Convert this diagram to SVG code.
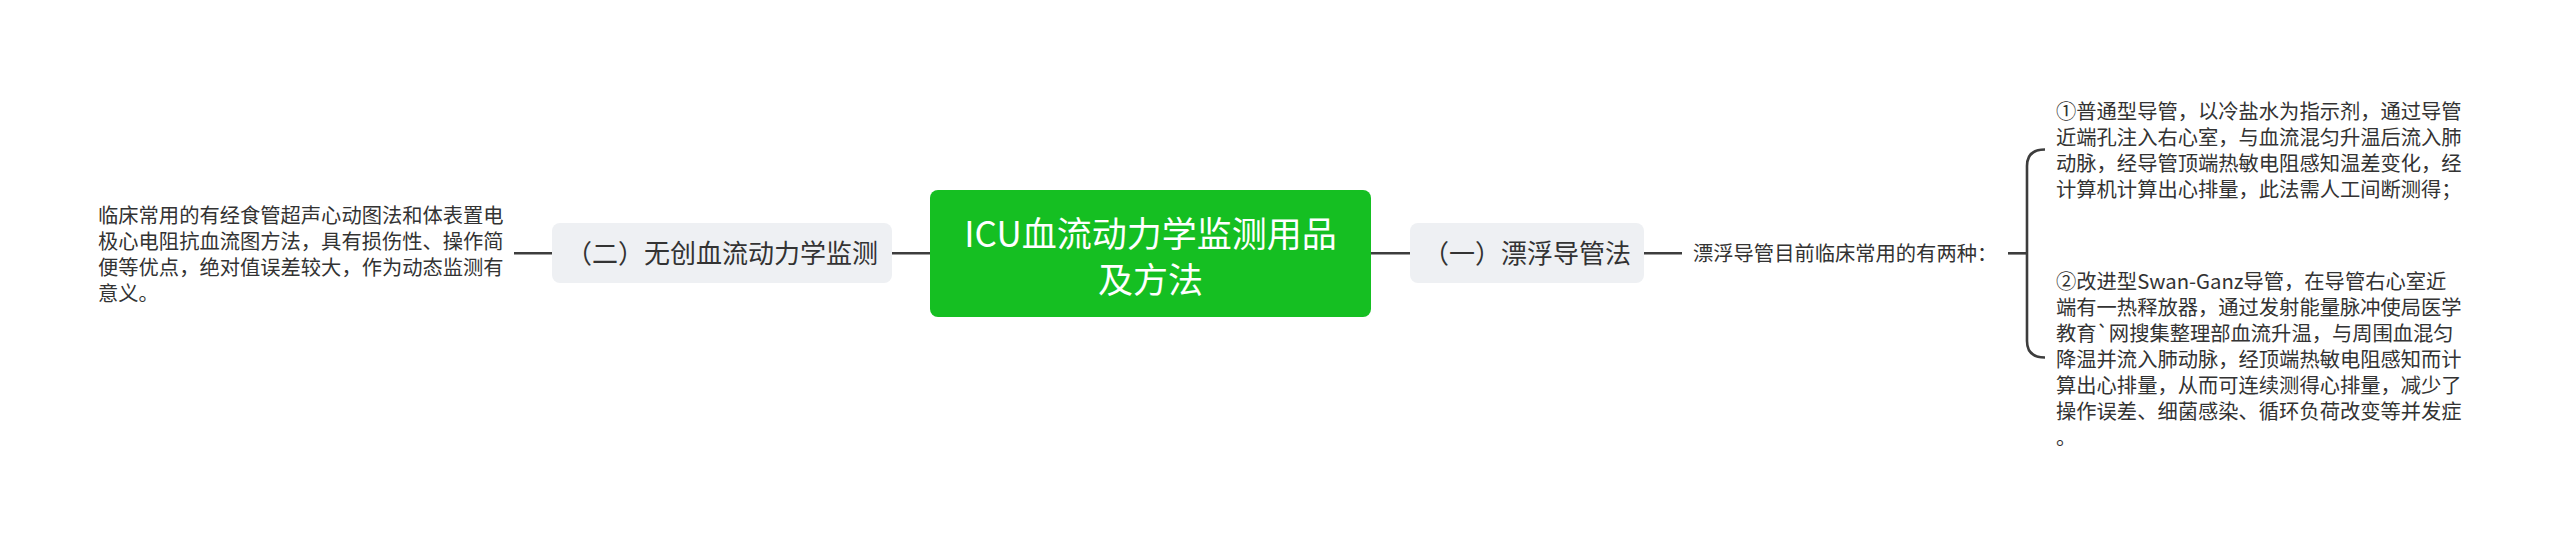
<svg xmlns="http://www.w3.org/2000/svg" width="2560" height="546" viewBox="0 0 2560 546">
<style>
text{font-family:"Noto Sans CJK SC","Noto Sans",sans-serif;fill:#333}
.sm{font-size:20.3px}
.mid{font-size:26px;text-anchor:middle}
.root{font-size:35px;text-anchor:middle;fill:#fff}
.box{fill:#eef0f3}
.conn{fill:none;stroke:#3d3d3d;stroke-width:2.6;stroke-linecap:butt}
</style>
<rect width="2560" height="546" fill="#fff"/>
<g id="connectors">
<line class="conn" x1="514" y1="253.3" x2="552" y2="253.3"/>
<line class="conn" x1="892" y1="253.3" x2="930" y2="253.3"/>
<line class="conn" x1="1371" y1="253.3" x2="1410" y2="253.3"/>
<line class="conn" x1="1644" y1="253.3" x2="1682" y2="253.3"/>
<line class="conn" x1="2008" y1="253.3" x2="2027" y2="253.3"/>
<path class="conn" d="M2045,149.5 Q2027,149.5 2027,166 L2027,341 Q2027,357.5 2045,357.5"/>
</g>
<g id="root">
<rect x="930" y="190" width="441" height="127" rx="8" fill="#15bf22"/>
<text class="root" x="1150.5" y="246.5">ICU血流动力学监测用品</text>
<text class="root" x="1150.5" y="293">及方法</text>
</g>
<g id="node-two">
<rect class="box" x="552" y="223" width="340" height="60" rx="8"/>
<text class="mid" x="722" y="262.5">（二）无创血流动力学监测</text>
</g>
<g id="node-two-text">
<text class="sm" x="98" y="222.5">临床常用的有经食管超声心动图法和体表置电</text>
<text class="sm" x="98" y="248.5">极心电阻抗血流图方法，具有损伤性、操作简</text>
<text class="sm" x="98" y="274.5">便等优点，绝对值误差较大，作为动态监测有</text>
<text class="sm" x="98" y="300.5">意义。</text>
</g>
<g id="node-one">
<rect class="box" x="1410" y="223" width="234" height="60" rx="8"/>
<text class="mid" x="1527" y="262.5">（一）漂浮导管法</text>
</g>
<g id="node-one-text">
<text class="sm" x="1693" y="261">漂浮导管目前临床常用的有两种：</text>
</g>
<g id="node-type1">
<text class="sm" x="2056" y="118.5">①普通型导管，以冷盐水为指示剂，通过导管</text>
<text class="sm" x="2056" y="144.5">近端孔注入右心室，与血流混匀升温后流入肺</text>
<text class="sm" x="2056" y="170.5">动脉，经导管顶端热敏电阻感知温差变化，经</text>
<text class="sm" x="2056" y="196.5">计算机计算出心排量，此法需人工间断测得；</text>
</g>
<g id="node-type2">
<text class="sm" x="2056" y="289">②改进型Swan-Ganz导管，在导管右心室近</text>
<text class="sm" x="2056" y="315">端有一热释放器，通过发射能量脉冲使局医学</text>
<text class="sm" x="2056" y="341">教育`网搜集整理部血流升温，与周围血混匀</text>
<text class="sm" x="2056" y="367">降温并流入肺动脉，经顶端热敏电阻感知而计</text>
<text class="sm" x="2056" y="393">算出心排量，从而可连续测得心排量，减少了</text>
<text class="sm" x="2056" y="419">操作误差、细菌感染、循环负荷改变等并发症</text>
<text class="sm" x="2056" y="445">。</text>
</g>
</svg>
